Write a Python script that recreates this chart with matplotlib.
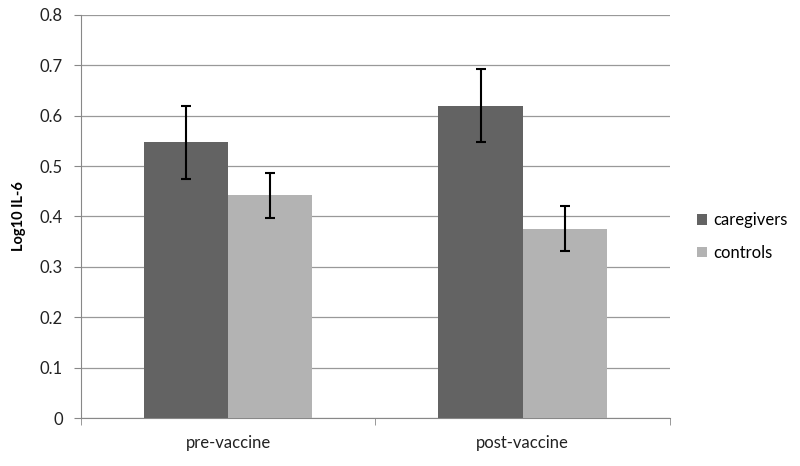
import matplotlib
import matplotlib.pyplot as plt
import numpy as np

matplotlib.use('Agg')

# データ
categories = ["pre-vaccine", "post-vaccine"]
caregivers = [0.547, 0.620]
caregivers_err = [0.073, 0.073]
controls = [0.442, 0.376]
controls_err = [0.045, 0.044]

plt.rcParams['font.family'] = ['Lato', 'DejaVu Sans']

fig = plt.figure(figsize=(8, 4.66), dpi=100)
ax = fig.add_axes([0.101, 0.103, 0.7365, 0.865])

x = np.arange(len(categories))
w = 0.286
err_kw = dict(ecolor='black', elinewidth=1.5, capsize=3.5, capthick=1.5)
ax.bar(x - w / 2, caregivers, w, yerr=caregivers_err, color='#636363',
       label='caregivers', error_kw=err_kw, zorder=3)
ax.bar(x + w / 2, controls, w, yerr=controls_err, color='#b3b3b3',
       label='controls', error_kw=err_kw, zorder=3)

ax.set_xlim(-0.5, 1.5)
ax.set_ylim(0, 0.8)
ax.set_yticks(np.arange(0, 0.81, 0.1))
ax.set_yticklabels(['0'] + ['%.1f' % v for v in np.arange(0.1, 0.81, 0.1)])
ax.set_xticks(x)
ax.set_xticklabels(categories)
ax.set_xticks([-0.5, 0.5, 1.5], minor=True)
ax.tick_params(axis='x', which='major', length=0, pad=12, labelsize=12, labelcolor='#222222')
ax.tick_params(axis='x', which='minor', length=5, color='#888888')
ax.tick_params(axis='y', length=5, color='#888888', labelsize=12, labelcolor='#222222', pad=8)

ax.grid(axis='y', color='#999999', linewidth=0.9, zorder=0)
for s in ['top', 'right']:
    ax.spines[s].set_visible(False)
ax.spines['left'].set_color('#888888')
ax.spines['bottom'].set_color('#888888')

ax.set_ylabel('Log10 IL-6', fontsize=10.5, fontweight='bold', labelpad=10)

ax.legend(loc='center left', bbox_to_anchor=(1.02, 0.45), frameon=False,
          fontsize=12, handlelength=0.6, handleheight=0.6, labelspacing=1.0,
          handletextpad=0.4)

plt.savefig('out.png', format='png')
plt.close()
